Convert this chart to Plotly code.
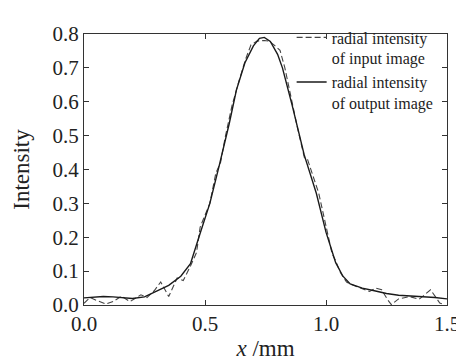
import plotly.graph_objects as go

# radial intensity of input image (dashed)
x_input = [0.000, 0.025, 0.050, 0.090, 0.120, 0.155, 0.190, 0.235, 0.260, 0.290,
           0.317, 0.350, 0.385, 0.410, 0.440, 0.465, 0.480, 0.500, 0.520, 0.545,
           0.564, 0.584, 0.612, 0.644, 0.670, 0.690, 0.715, 0.745, 0.765, 0.785,
           0.810, 0.830, 0.855, 0.880, 0.911, 0.924, 0.970, 1.000, 1.025, 1.040,
           1.060, 1.085, 1.100, 1.150, 1.180, 1.205, 1.230, 1.255, 1.270, 1.300,
           1.345, 1.385, 1.432, 1.470, 1.490]
y_input = [0.005, 0.022, 0.014, 0.003, 0.010, 0.026, 0.010, 0.030, 0.022, 0.042,
           0.068, 0.025, 0.080, 0.072, 0.115, 0.155, 0.230, 0.265, 0.300, 0.390,
           0.420, 0.497, 0.590, 0.670, 0.730, 0.768, 0.779, 0.781, 0.779, 0.768,
           0.752, 0.700, 0.610, 0.530, 0.434, 0.429, 0.330, 0.232, 0.152, 0.130,
           0.095, 0.068, 0.062, 0.048, 0.040, 0.050, 0.045, 0.015, 0.001, 0.018,
           0.025, 0.017, 0.045, 0.006, 0.000]

# radial intensity of output image (solid)
x_output = [0.00, 0.04, 0.08, 0.12, 0.16, 0.20, 0.25, 0.30, 0.35, 0.40,
            0.44, 0.48, 0.52, 0.56, 0.60, 0.63, 0.665, 0.70, 0.725, 0.745,
            0.77, 0.80, 0.82, 0.86, 0.91, 0.96, 1.00, 1.04, 1.07, 1.10,
            1.15, 1.20, 1.25, 1.30, 1.35, 1.40, 1.45, 1.50]
y_output = [0.021, 0.024, 0.025, 0.024, 0.021, 0.019, 0.024, 0.040, 0.058, 0.085,
            0.122, 0.212, 0.300, 0.415, 0.535, 0.635, 0.715, 0.765, 0.787, 0.790,
            0.778, 0.740, 0.700, 0.590, 0.443, 0.330, 0.215, 0.125, 0.085, 0.062,
            0.050, 0.042, 0.034, 0.029, 0.027, 0.025, 0.022, 0.018]

x_ticks = [0.0, 0.5, 1.0, 1.5]
y_ticks = [0.0, 0.1, 0.2, 0.3, 0.4, 0.5, 0.6, 0.7, 0.8]

FONT = "Liberation Serif, Times New Roman, serif"

fig = go.Figure()
fig.add_trace(go.Scatter(
    x=x_input, y=y_input, mode="lines",
    name="radial intensity<br>of input image",
    line=dict(color="#444444", width=1.1, dash="6px,3px"),
))
fig.add_trace(go.Scatter(
    x=x_output, y=y_output, mode="lines",
    name="radial intensity<br>of output image",
    line=dict(color="#1a1a1a", width=1.4),
))

fig.update_layout(
    width=464, height=360,
    margin=dict(l=74, r=15, t=17, b=49),
    paper_bgcolor="white", plot_bgcolor="white",
    font=dict(family=FONT, color="#222222", size=20),
    showlegend=True,
    legend=dict(
        x=0.572, y=1.05, xanchor="left", yanchor="top",
        font=dict(family=FONT, size=16, color="#222222"),
        bgcolor="rgba(0,0,0,0)", valign="top",
        tracegroupgap=0,
    ),
)
fig.update_xaxes(
    range=[0, 1.5], tickvals=x_ticks, tickformat=".1f",
    ticks="inside", ticklen=5, tickcolor="#333333",
    showline=True, linecolor="#333333", linewidth=1.2, mirror="ticks",
    showgrid=False, zeroline=False,
    tickfont=dict(size=21),
    title=dict(text="<i>x</i> /mm", font=dict(size=23), standoff=4),
)
fig.update_yaxes(
    range=[0, 0.8], tickvals=y_ticks, tickformat=".1f",
    ticks="inside", ticklen=5, tickcolor="#333333",
    showline=True, linecolor="#333333", linewidth=1.2, mirror="ticks",
    showgrid=False, zeroline=False,
    tickfont=dict(size=21),
    title=dict(text="Intensity", font=dict(size=23), standoff=16),
)

fig.write_html("out.html")
